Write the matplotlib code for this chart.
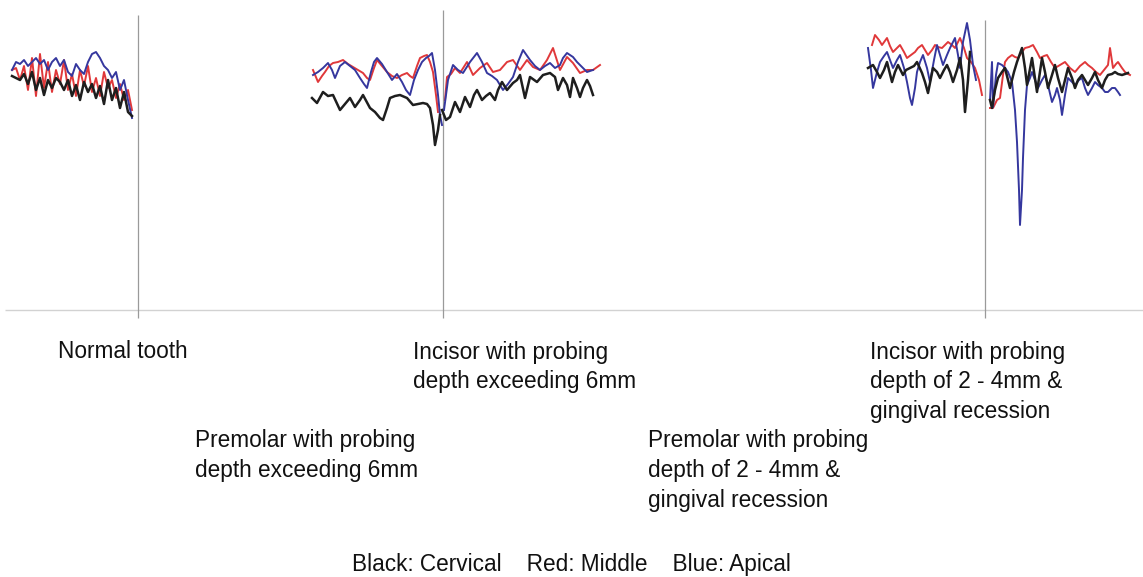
import numpy as np
import matplotlib
matplotlib.use("Agg")
import matplotlib.pyplot as plt

plt.rcParams['font.family'] = ['Liberation Sans', 'DejaVu Sans']

# ---------------- data (signal amplitude above baseline) ----------------
# Group 1: normal tooth (uniformly sampled)
g1_black = [234,232,230,236,226,238,220,232,215,230,222,232,228,220,230,214,225,210,228,218,226,212,224,206,230,210,222,202,218,198,194]
g1_red   = [240,242,230,244,220,252,214,256,222,248,218,240,226,250,220,236,214,240,224,244,218,232,214,238,222,230,212,226,210,220,200]
g1_blue  = [240,248,246,250,244,248,252,246,250,240,248,252,244,250,238,234,246,240,236,248,256,258,252,244,240,232,238,220,230,210,192]

# Group 2: premolar (left) / incisor (right), probing depth > 6mm
g2l_black_x = [312,317,323,328,333,340,345,350,355,360,363,370,375,380,383,387,390,395,400,407,413,418,423,427,430,433,435,438,440]
g2l_black   = [212,207,218,214,215,200,206,212,203,210,215,202,198,192,190,202,212,214,215,212,205,206,207,206,202,185,165,180,195]
g2l_red_x = [313,318,322,325,329,333,338,343,348,353,358,363,367,370,374,377,382,387,392,397,402,407,410,413,417,420,424,427,430,433,436,438]
g2l_red   = [240,228,234,238,244,247,248,250,246,243,240,237,232,230,242,250,244,238,234,232,235,237,234,232,244,252,254,255,248,238,215,198]
g2l_blue_x = [313,318,323,328,332,335,340,345,350,355,360,364,367,371,374,377,382,387,392,397,402,406,410,414,418,422,426,429,432,435,438,440,442]
g2l_blue   = [235,238,242,247,240,232,244,248,244,240,232,226,222,238,248,252,246,238,230,236,228,220,215,230,240,248,252,254,257,240,215,195,185]

g2r_black_x = [442,446,450,455,460,465,470,474,477,482,486,490,495,498,502,507,513,517,520,525,530,537,543,550,555,558,563,567,570,573,577,580,583,587,590,593]
g2r_black   = [200,190,193,208,198,213,203,215,220,210,214,217,210,220,228,220,227,230,235,212,233,228,235,237,233,220,232,225,213,232,222,213,222,230,224,215]
g2r_red_x = [445,447,451,455,460,467,473,480,487,493,500,507,513,520,527,533,540,547,553,560,567,573,580,587,593,600]
g2r_red   = [210,233,236,242,237,248,235,242,247,238,240,248,250,240,250,243,240,250,262,240,253,247,237,240,240,245]
g2r_blue_x = [444,448,453,458,463,470,477,482,487,492,497,503,508,513,518,523,530,535,540,545,550,555,560,563,567,573,577,580,587,593]
g2r_blue   = [200,230,245,240,237,248,257,248,237,234,230,220,226,233,248,260,250,244,240,244,247,242,245,252,257,253,248,245,238,240]

# Group 3: premolar (left) / incisor (right), probing depth 2-4mm & recession
g3l_black_x = [868,873,877,880,884,887,892,895,898,903,906,910,914,917,922,925,928,933,937,940,944,947,950,953,957,960,963,965,968,970]
g3l_black   = [242,245,238,232,240,248,228,238,245,235,240,242,244,248,237,228,217,242,238,232,240,245,238,228,240,252,230,198,230,258]
g3l_blue_x = [868,871,873,877,880,884,887,890,893,897,900,904,907,910,912,915,917,920,923,927,930,934,937,940,943,947,950,953,955,958,960,963,967,970,973,976]
g3l_blue   = [262,240,222,238,248,254,258,250,242,250,255,242,228,212,205,222,238,248,255,242,228,250,265,255,245,255,262,268,272,255,242,268,287,270,245,230]
g3l_red_x = [872,875,879,882,887,890,893,897,900,904,907,911,915,918,922,925,928,932,935,938,942,945,948,952,955,958,960,964,967,971,975,979,982]
g3l_red   = [265,275,270,265,272,264,258,262,265,258,252,255,258,262,265,260,255,260,265,263,262,265,268,265,262,268,272,262,252,248,242,230,215]

g3r_blue_x = [990,992,993,996,998,1002,1005,1008,1012,1015,1017,1019,1020,1022,1023,1025,1027,1030,1032,1035,1038,1042,1045,1048,1052,1055,1057,1060,1062,1065,1068,1072,1075,1079,1082,1085,1088,1092,1095,1098,1102,1105,1108,1112,1115,1118,1120]
g3r_blue   = [210,248,203,235,247,245,242,238,228,200,168,120,85,120,152,200,225,232,238,230,222,230,235,225,208,215,222,210,195,215,232,228,225,230,232,222,215,222,228,225,222,218,218,222,222,218,215]
g3r_black_x = [990,992,995,998,1002,1005,1010,1014,1017,1022,1025,1027,1032,1037,1042,1045,1048,1052,1055,1058,1062,1065,1068,1072,1075,1078,1082,1085,1088,1092,1095,1098,1102,1105,1108,1112,1115,1118,1122,1125,1128]
g3r_black   = [210,202,220,232,238,242,222,238,248,262,242,225,252,218,252,238,222,235,245,232,218,230,242,232,222,230,235,230,225,232,238,230,222,230,235,236,238,236,235,236,237]
g3r_red_x = [990,993,997,1000,1003,1005,1008,1012,1015,1018,1022,1025,1029,1033,1037,1040,1044,1047,1051,1055,1060,1065,1070,1075,1080,1085,1088,1092,1096,1100,1104,1108,1110,1113,1116,1118,1122,1125,1128,1130]
g3r_red   = [202,202,210,212,235,248,252,255,253,252,258,262,263,265,258,252,254,255,248,242,245,248,242,238,244,248,245,242,238,235,240,245,262,242,246,248,242,238,236,235]

labels = [
    ("Normal tooth", 58, 352),
    ("Incisor with probing\ndepth exceeding 6mm", 413, 352),
    ("Incisor with probing\ndepth of 2 - 4mm &\ngingival recession", 870, 352),
    ("Premolar with probing\ndepth exceeding 6mm", 195, 441),
    ("Premolar with probing\ndepth of 2 - 4mm &\ngingival recession", 648, 441),
]
legend_text = "Black: Cervical    Red: Middle    Blue: Apical"

# ---------------- drawing ----------------
W, H = 1143, 577
BASE = 310  # pixel row of the baseline
fig = plt.figure(figsize=(W / 100, H / 100), dpi=100)
ax = fig.add_axes([0, 0, 1, 1])
ax.set_xlim(0, W)
ax.set_ylim(BASE - H, BASE)
ax.axis('off')

BLACK, RED, BLUE = '#1e1e1e', '#e0383a', '#35379e'

def amp(py):
    return BASE - py

# baseline and marker lines
ax.hlines(0, 5, W, color='#d2d2d2', lw=1.0)
for xm, top in [(138, 295), (443, 300), (985, 290)]:
    ax.vlines(xm, -8, top, color='#9a9a9a', lw=0.9)

g1_x = np.linspace(12, 132, len(g1_black))
ax.plot(g1_x, g1_red, color=RED, lw=1.4)
ax.plot(g1_x, g1_blue, color=BLUE, lw=1.4)
ax.plot(g1_x, g1_black, color=BLACK, lw=1.8)

for xs, ys, c, lw in [
    (g2l_red_x, g2l_red, RED, 1.4), (g2l_blue_x, g2l_blue, BLUE, 1.4), (g2l_black_x, g2l_black, BLACK, 1.8),
    (g2r_red_x, g2r_red, RED, 1.4), (g2r_blue_x, g2r_blue, BLUE, 1.4), (g2r_black_x, g2r_black, BLACK, 1.8),
    (g3l_red_x, g3l_red, RED, 1.4), (g3l_blue_x, g3l_blue, BLUE, 1.4), (g3l_black_x, g3l_black, BLACK, 1.8),
    (g3r_red_x, g3r_red, RED, 1.4), (g3r_blue_x, g3r_blue, BLUE, 1.4), (g3r_black_x, g3r_black, BLACK, 1.8),
]:
    ax.plot(xs, ys, color=c, lw=lw)

FS = 16.3
for text, x, y in labels:
    for i, line in enumerate(text.split("\n")):
        ax.text(x, amp(y + i * 29.7), line, fontsize=FS, color='#111111',
                ha='left', va='center')

ax.text(352, amp(564), legend_text, fontsize=FS, color='#111111', ha='left', va='center')

fig.savefig("out.png", dpi=100)
